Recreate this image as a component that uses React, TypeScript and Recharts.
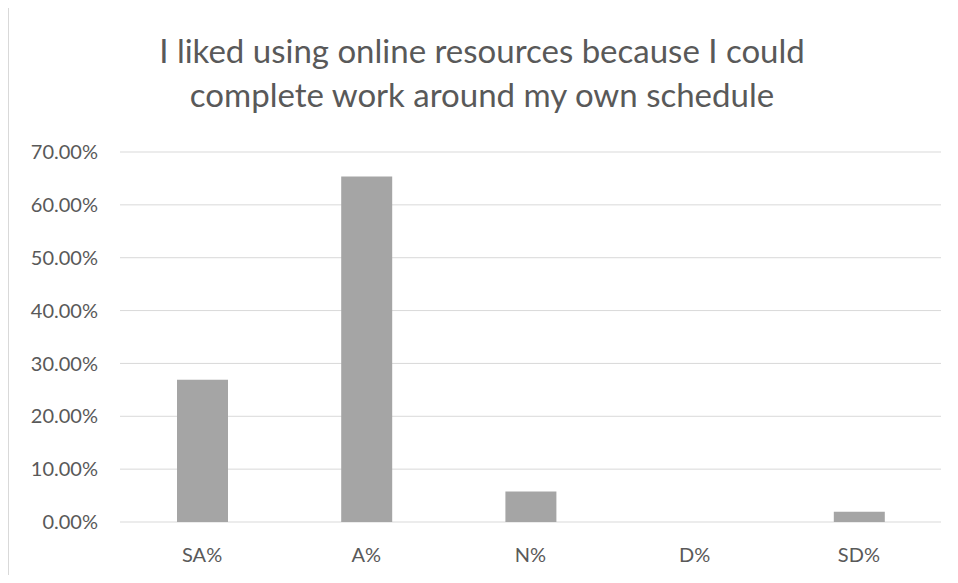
import React from "react";
import { Bar, BarChart, CartesianGrid, XAxis, YAxis } from "recharts";

const categories = ["SA%", "A%", "N%", "D%", "SD%"];
const shares = [0.2692, 0.6538, 0.0577, 0, 0.0192];
const yTicks = [0, 0.1, 0.2, 0.3, 0.4, 0.5, 0.6, 0.7];
const titleLines = [
  "I liked using online resources because I could",
  "complete work around my own schedule",
];

const chartData = categories.map((name, i) => ({
  name,
  share: shares[i],
}));

const formatPct = (v: number) => `${(v * 100).toFixed(2)}%`;

const font = "Lato, 'Open Sans', sans-serif";

const App = () => {
  return (
    <div
      style={{
        position: "relative",
        width: 950,
        height: 567,
        marginTop: -1,
        borderLeft: "1px solid #d9d9d9",
        borderTop: "1px solid #d9d9d9",
        overflow: "hidden",
        background: "#fff",
        fontFamily: font,
      }}
    >
      <div
        style={{
          position: "absolute",
          top: 20,
          left: 0,
          width: 946,
          textAlign: "center",
          color: "#595959",
          fontSize: 33,
          lineHeight: "44px",
        }}
      >
        {titleLines.map((line) => (
          <div key={line}>{line}</div>
        ))}
      </div>
      <BarChart
        width={949}
        height={566}
        data={chartData}
        margin={{ top: 144, right: 17, left: 0, bottom: 0 }}
      >
        <CartesianGrid vertical={false} stroke="#d9d9d9" strokeWidth={1} />
        <XAxis
          dataKey="name"
          height={52}
          axisLine={false}
          tickLine={false}
          tickSize={0}
          tickMargin={26}
          tick={{ fill: "#595959", fontSize: 20, fontFamily: font }}
        />
        <YAxis
          width={111}
          domain={[0, 0.7]}
          ticks={yTicks}
          tickFormatter={formatPct}
          axisLine={false}
          tickLine={false}
          tickSize={0}
          tickMargin={22}
          tick={{ fill: "#595959", fontSize: 20, fontFamily: font }}
        />
        <Bar
          dataKey="share"
          fill="#a5a5a5"
          barSize={51}
          isAnimationActive={false}
        />
      </BarChart>
    </div>
  );
};

export default App;
